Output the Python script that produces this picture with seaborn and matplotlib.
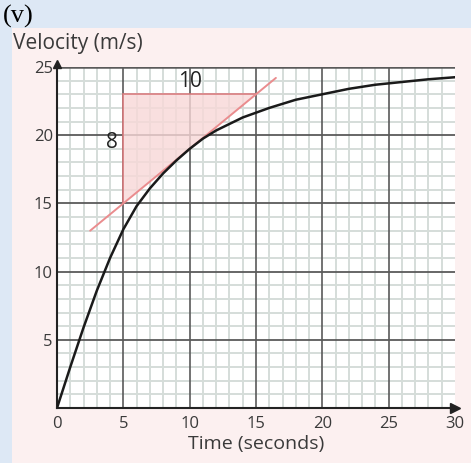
# velocity-time graph with a tangent drawn at t = 10 s
import matplotlib.pyplot as plt
import matplotlib.patches as patches
import pandas as pd
import seaborn as sns
import numpy as np

# readings of the curve taken off the graph
time_s = [0, 1, 2, 3, 4, 5, 6, 7, 8, 9, 10, 11, 12, 14, 16, 18, 20, 22, 24, 26, 28, 30]
velocity = [0, 3.0, 5.9, 8.6, 11.0, 13.1, 14.8, 16.1, 17.2, 18.15, 19.0, 19.75, 20.35,
            21.3, 22.0, 22.6, 23.0, 23.4, 23.7, 23.9, 24.1, 24.25]

# tangent line end points and the gradient triangle
tangent_t = [2.5, 16.5]
tangent_v = [13.0, 24.2]
triangle_t = [5, 5, 15]
triangle_v = [15, 23, 23]
run_label = '10'
rise_label = '8'

x_ticks = [0, 5, 10, 15, 20, 25, 30]
y_ticks = [5, 10, 15, 20, 25]

df = pd.DataFrame({'Time': time_s, 'Velocity': velocity})

sns.set_style('white')
plt.rcParams['font.family'] = ['Open Sans', 'DejaVu Sans']

fig = plt.figure(figsize=(4.71, 4.63), dpi=100, facecolor='#dde8f5')
# pink panel behind the graph
fig.patches.append(patches.Rectangle((12 / 471, 0), 1, 1 - 28 / 463,
                                     transform=fig.transFigure,
                                     facecolor='#fcf0f0', edgecolor='none', zorder=-10))
fig.text(3 / 471, 1 - 16 / 463, '(v)', family='Liberation Serif', fontsize=19,
         va='center', ha='left', color='black')

ax = fig.add_axes([57 / 471, 55 / 463, 398 / 471, 341 / 463])
ax.set_facecolor('white')

# grid: fine lines every unit, heavy lines every 5
for t in range(1, 30):
    if t % 5:
        ax.axvline(t, color='#d5ddd9', lw=1.4, zorder=1)
for v in range(1, 25):
    if v % 5:
        ax.axhline(v, color='#d5ddd9', lw=1.4, zorder=1)
for t in x_ticks[1:-1]:
    ax.axvline(t, color='#5a5a5a', lw=1.2, zorder=2)
for v in y_ticks:
    ax.axhline(v, color='#5a5a5a', lw=1.3 if v < 25 else 1.8, zorder=2)

# gradient triangle
tri = patches.Polygon(list(zip(triangle_t, triangle_v)), closed=False,
                      facecolor='#f8d8d8', edgecolor='#d9777a', lw=1.4,
                      alpha=0.8, zorder=3)
ax.add_patch(tri)

sns.lineplot(data=df, x='Time', y='Velocity', color='#1a1a1a', lw=1.8, ax=ax, zorder=5)
ax.plot(tangent_t, tangent_v, color='#ea8c8e', lw=1.4, zorder=4)

ax.text(10, 23.95, run_label, ha='center', va='center', fontsize=15, color='#222')
ax.text(4.6, 19.5, rise_label, ha='right', va='center', fontsize=15, color='#222')

ax.set_xlim(0, 30)
ax.set_ylim(0, 25)
ax.set_xticks(x_ticks)
ax.set_yticks(y_ticks)
ax.tick_params(labelsize=12, colors='#3a3a3a', length=3, width=1, direction='out')
ax.tick_params(axis='x', pad=3)
ax.tick_params(axis='y', pad=0)
ax.set_xlabel('Time (seconds)', fontsize=14, color='#3a3a3a', labelpad=2)
ax.set_ylabel('')
fig.text(13 / 471, 1 - 44 / 463, 'Velocity (m/s)', fontsize=15, color='#3a3a3a',
         ha='left', va='center')

for side in ['top', 'right']:
    ax.spines[side].set_visible(False)
for side in ['left', 'bottom']:
    ax.spines[side].set_color('#222')
    ax.spines[side].set_linewidth(1.5)

# axis arrows
ax.plot([0], [25.2], marker='^', color='#222', ms=6, clip_on=False, zorder=6)
ax.plot([30], [0], marker='>', color='#222', ms=7, clip_on=False, zorder=6)

fig.savefig('out.png', dpi=100, facecolor=fig.get_facecolor())
